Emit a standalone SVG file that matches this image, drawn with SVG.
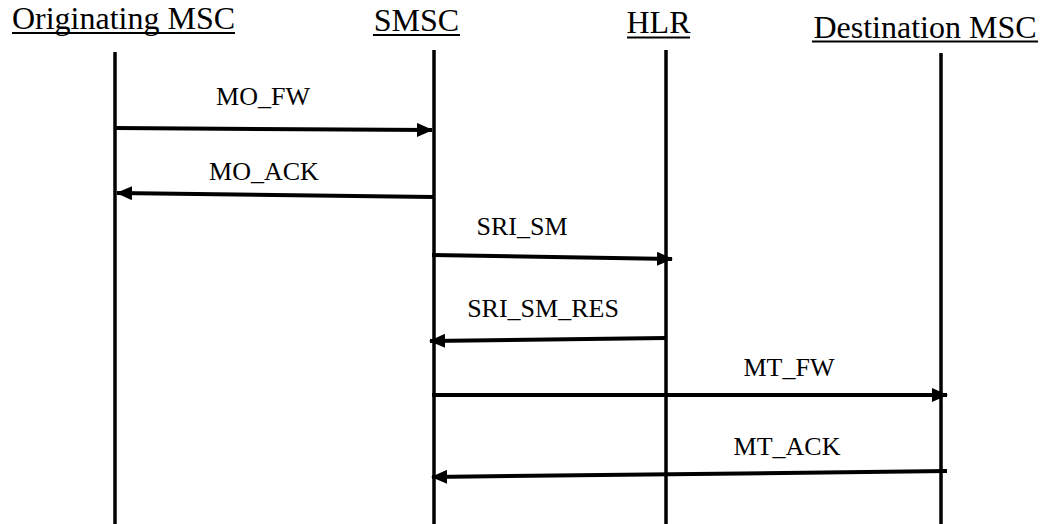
<svg xmlns="http://www.w3.org/2000/svg" width="1041" height="524" viewBox="0 0 1041 524">
<style>
text{font-family:'Liberation Serif','Times New Roman','DejaVu Serif',serif;fill:#000;text-anchor:middle}
.hdr{font-size:32px}
.lbl{font-size:26px}
.life{stroke:#000;stroke-width:3.5;fill:none}
.msg{stroke:#000;stroke-width:4;fill:none;marker-end:url(#ah)}
.ul{stroke:#000;stroke-width:2}
</style>
<defs>
<marker id="ah" markerUnits="userSpaceOnUse" markerWidth="16" markerHeight="14" refX="15" refY="7" orient="auto">
<path d="M0,0 L16,7 L0,14 Z" fill="#000"/>
</marker>
</defs>
<rect width="1041" height="524" fill="#fff"/>
<g id="node-orig">
<text class="hdr" x="123.5" y="29">Originating MSC</text>
<line class="ul" x1="12" y1="33" x2="235" y2="33"/>
<line class="life" x1="115" y1="52" x2="115" y2="524"/>
</g>
<g id="node-smsc">
<text class="hdr" x="416.5" y="30.5">SMSC</text>
<line class="ul" x1="373" y1="35" x2="460" y2="35"/>
<line class="life" x1="434" y1="50" x2="434" y2="524"/>
</g>
<g id="node-hlr">
<text class="hdr" x="658.5" y="33">HLR</text>
<line class="ul" x1="627" y1="37.5" x2="690" y2="37.5"/>
<line class="life" x1="666" y1="50" x2="666" y2="524"/>
</g>
<g id="node-dest">
<text class="hdr" x="925" y="37.5">Destination MSC</text>
<line class="ul" x1="812" y1="41.5" x2="1038" y2="41.5" stroke-width="2.5"/>
<line class="life" x1="941" y1="53" x2="941" y2="524"/>
</g>
<g id="connectors">
<path class="msg" d="M115,128 L432,130"/>
<text class="lbl" x="263" y="105">MO_FW</text>
<path class="msg" d="M434,197 L117,193"/>
<text class="lbl" x="264" y="180">MO_ACK</text>
<path class="msg" d="M432,255 L672,259"/>
<text class="lbl" x="522" y="235">SRI_SM</text>
<path class="msg" d="M666,338 L430,341"/>
<text class="lbl" x="543" y="317">SRI_SM_RES</text>
<path class="msg" d="M432,395 L947,395"/>
<text class="lbl" x="789" y="376">MT_FW</text>
<path class="msg" d="M947,471 L432,477"/>
<text class="lbl" x="787" y="455">MT_ACK</text>
</g>
</svg>
